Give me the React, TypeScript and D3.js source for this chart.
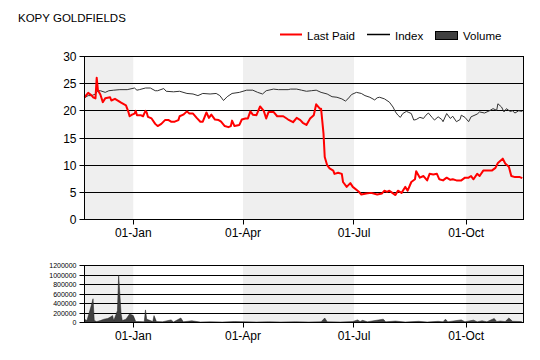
import React from 'react';
import * as d3 from 'd3';

const title = 'KOPY GOLDFIELDS';
const seriesNames = ['Last Paid', 'Index', 'Volume'];

const priceDates = [
  '2012-11-22','2012-11-25','2012-11-28','2012-11-29','2012-12-01','2012-12-02','2012-12-03','2012-12-05','2012-12-07','2012-12-09',
  '2012-12-13','2012-12-14','2012-12-17','2012-12-20','2012-12-22','2012-12-26','2012-12-28','2012-12-29','2012-12-31','2013-01-02',
  '2013-01-03','2013-01-04','2013-01-07','2013-01-09','2013-01-11','2013-01-12','2013-01-13','2013-01-16','2013-01-19','2013-01-21',
  '2013-01-24','2013-01-27','2013-01-30','2013-02-01','2013-02-04','2013-02-07','2013-02-08','2013-02-11','2013-02-14','2013-02-16',
  '2013-02-19','2013-02-22','2013-02-25','2013-02-27','2013-03-02','2013-03-04','2013-03-06','2013-03-09','2013-03-12','2013-03-14',
  '2013-03-17','2013-03-20','2013-03-22','2013-03-23','2013-03-25','2013-03-29','2013-03-31','2013-04-03','2013-04-05','2013-04-07',
  '2013-04-09','2013-04-12','2013-04-15','2013-04-18','2013-04-20','2013-04-22','2013-04-26','2013-04-29','2013-05-04','2013-05-08',
  '2013-05-12','2013-05-15','2013-05-18','2013-05-20','2013-05-23','2013-05-26','2013-05-29','2013-05-31','2013-06-03','2013-06-04',
  '2013-06-06','2013-06-07','2013-06-09','2013-06-11','2013-06-14','2013-06-15','2013-06-18','2013-06-21','2013-06-22','2013-06-25',
  '2013-06-28','2013-06-30','2013-07-05','2013-07-07','2013-07-11','2013-07-15','2013-07-20','2013-07-24','2013-07-26','2013-07-28',
  '2013-07-30','2013-08-02','2013-08-04','2013-08-06','2013-08-09','2013-08-12','2013-08-14','2013-08-17','2013-08-20','2013-08-21',
  '2013-08-24','2013-08-27','2013-08-30','2013-09-01','2013-09-04','2013-09-07','2013-09-09','2013-09-12','2013-09-15','2013-09-18',
  '2013-09-20','2013-09-23','2013-09-27','2013-09-30','2013-10-03','2013-10-05','2013-10-07','2013-10-10','2013-10-12','2013-10-15',
  '2013-10-18','2013-10-22','2013-10-25','2013-10-27','2013-10-31','2013-11-02','2013-11-05','2013-11-07','2013-11-10','2013-11-14',
  '2013-11-16'
];
const priceValues = [
  22.5,23.3,22.8,22.5,22.3,26.1,23.8,23.0,21.6,22.3,
  22.5,21.9,22.2,21.8,21.5,21.0,19.8,19.0,19.3,19.5,
  20.0,19.2,19.2,19.0,20.0,19.7,18.9,18.6,17.6,17.2,
  17.6,18.3,18.3,18.0,18.0,18.3,19.0,19.3,19.9,19.5,
  19.5,18.7,18.0,18.0,19.7,18.7,19.3,18.4,18.3,18.0,
  17.2,17.0,17.2,18.2,17.2,17.4,18.4,18.6,18.6,19.9,
  19.3,19.2,20.8,20.0,18.6,19.8,19.8,19.0,19.0,18.4,
  17.9,18.7,18.3,17.8,17.4,18.6,19.2,21.2,20.4,20.4,
  15.8,11.5,10.0,9.4,9.0,8.4,8.6,8.4,6.9,6.0,
  6.7,6.0,5.1,4.6,4.8,4.9,4.6,4.8,5.3,5.1,
  5.3,4.8,4.5,5.3,4.9,6.0,5.3,6.9,7.4,8.9,
  7.7,8.0,7.2,8.4,8.3,8.4,7.4,7.2,7.7,7.3,
  7.4,7.2,7.2,7.7,7.7,8.0,7.4,8.4,8.0,9.0,
  9.0,9.0,9.5,10.4,11.2,10.3,9.7,8.0,7.8,7.8,
  7.6
];

const indexDates = [
  '2012-11-22','2012-11-25','2012-11-28','2012-12-01','2012-12-03','2012-12-05','2012-12-09','2012-12-12','2012-12-16','2012-12-21',
  '2012-12-27','2013-01-02','2013-01-04','2013-01-06','2013-01-11','2013-01-15','2013-01-19','2013-01-21','2013-01-26','2013-01-28',
  '2013-02-03','2013-02-08','2013-02-14','2013-02-19','2013-02-23','2013-02-27','2013-03-05','2013-03-10','2013-03-13','2013-03-16',
  '2013-03-19','2013-03-23','2013-03-29','2013-04-04','2013-04-09','2013-04-13','2013-04-17','2013-04-20','2013-04-26','2013-04-30',
  '2013-05-08','2013-05-10','2013-05-15','2013-05-19','2013-05-23','2013-05-27','2013-05-31','2013-06-04','2013-06-09','2013-06-13',
  '2013-06-17','2013-06-21','2013-06-24','2013-06-26','2013-06-29','2013-07-03','2013-07-07','2013-07-10','2013-07-14','2013-07-18',
  '2013-07-20','2013-07-22','2013-07-26','2013-07-30','2013-08-02','2013-08-04','2013-08-06','2013-08-08','2013-08-10','2013-08-13',
  '2013-08-15','2013-08-17','2013-08-19','2013-08-21','2013-08-24','2013-08-27','2013-08-29','2013-08-31','2013-09-03','2013-09-05',
  '2013-09-08','2013-09-11','2013-09-12','2013-09-15','2013-09-18','2013-09-20','2013-09-23','2013-09-26','2013-09-27','2013-09-30',
  '2013-10-03','2013-10-05','2013-10-10','2013-10-12','2013-10-16','2013-10-20','2013-10-23','2013-10-26','2013-10-27','2013-10-30',
  '2013-11-01','2013-11-03','2013-11-06','2013-11-08','2013-11-10','2013-11-13','2013-11-16'
];
const indexValues = [
  22.4,22.8,22.8,23.1,23.7,23.7,23.4,23.7,23.8,23.9,
  23.9,24.2,23.8,23.9,24.2,24.2,23.7,23.7,24.1,23.6,
  23.5,23.6,23.2,23.1,22.8,23.2,23.1,23.2,22.8,21.9,
  22.6,23.2,23.4,23.8,23.8,23.4,23.1,23.7,24.0,23.9,
  23.9,24.0,24.0,23.8,23.6,23.7,23.8,23.4,23.1,22.6,
  22.5,22.2,21.8,22.2,23.0,23.4,23.2,22.8,22.5,22.0,
  22.4,22.5,22.2,21.6,20.7,19.8,19.2,18.8,19.5,19.9,
  19.7,19.5,18.3,18.4,18.8,18.6,19.2,19.6,18.8,18.3,
  18.9,18.4,18.0,19.5,18.6,19.0,18.0,18.4,19.2,18.8,
  18.0,18.9,19.4,19.8,19.6,20.0,20.4,20.1,21.3,20.7,
  19.8,20.4,19.9,20.0,19.6,20.0,19.9
];

const volumeDates = [
  '2012-11-22','2012-11-24','2012-11-26','2012-11-28','2012-11-29','2012-11-30','2012-12-02','2012-12-05','2012-12-08','2012-12-11',
  '2012-12-13','2012-12-15','2012-12-16','2012-12-19','2012-12-20','2012-12-22','2012-12-23','2012-12-26','2012-12-29','2013-01-01',
  '2013-01-03','2013-01-06','2013-01-10','2013-01-11','2013-01-12','2013-01-15','2013-01-17','2013-01-18','2013-01-20','2013-01-25',
  '2013-02-01','2013-02-03','2013-02-09','2013-02-11','2013-02-18','2013-02-25','2013-03-05','2013-03-15','2013-03-25','2013-04-03',
  '2013-04-12','2013-04-22','2013-05-02','2013-05-14','2013-05-25','2013-06-04','2013-06-07','2013-06-09','2013-06-20','2013-06-30',
  '2013-07-04','2013-07-06','2013-07-08','2013-07-12','2013-07-25','2013-07-27','2013-08-04','2013-08-12','2013-08-23','2013-08-30',
  '2013-09-08','2013-09-12','2013-09-14','2013-09-16','2013-09-27','2013-09-30','2013-10-07','2013-10-10','2013-10-14','2013-10-18',
  '2013-10-24','2013-10-26','2013-10-29','2013-11-02','2013-11-05','2013-11-08','2013-11-15','2013-11-16'
];
const volumeValues = [
  70000,40000,215000,400000,500000,40000,20000,40000,70000,85000,
  110000,145000,40000,250000,1000000,180000,40000,70000,180000,145000,
  20000,20000,15000,265000,70000,40000,20000,145000,20000,15000,
  55000,10000,95000,15000,35000,10000,15000,10000,20000,15000,
  10000,15000,10000,15000,10000,15000,95000,15000,10000,20000,
  55000,20000,45000,15000,70000,15000,30000,10000,25000,10000,
  25000,15000,70000,15000,55000,15000,50000,15000,35000,15000,
  85000,20000,30000,20000,95000,25000,20000,10000
];

const priceTicks = [0, 5, 10, 15, 20, 25, 30];
const volumeTicks = [0, 200000, 400000, 600000, 800000, 1000000, 1200000];

const FONT = '"Liberation Sans", Arial, sans-serif';
const parse = d3.timeParse('%Y-%m-%d');

export default function App() {
  const startDate = parse('2012-11-22') as Date;
  const endDate = parse('2013-11-17') as Date;
  const left = 84.5;
  const right = 523.5;
  const x = d3.scaleTime().domain([startDate, endDate]).range([left, right]);
  const y = d3.scaleLinear().domain([0, 30]).range([219.5, 56.5]);
  const yv = d3.scaleLinear().domain([0, 1200000]).range([322.5, 265.5]);
  const crisp = (v: number) => Math.floor(v) + 0.5;

  const qTicks = x.ticks(d3.timeMonth.every(3) as any) as Date[];
  const bounds = [startDate, ...qTicks, endDate];
  const bands: [Date, Date][] = [];
  for (let i = 0; i < bounds.length - 1; i += 2) bands.push([bounds[i], bounds[i + 1]]);
  const fmt = d3.timeFormat('%d-%b');

  const price = priceDates.map((d, i) => [parse(d) as Date, priceValues[i]] as [Date, number]);
  const index = indexDates.map((d, i) => [parse(d) as Date, indexValues[i]] as [Date, number]);
  const volume = volumeDates.map((d, i) => [parse(d) as Date, volumeValues[i]] as [Date, number]);

  const line = d3.line<[Date, number]>().x(d => x(d[0])).y(d => y(d[1]));
  const area = d3.area<[Date, number]>().x(d => x(d[0])).y0(yv(0)).y1(d => yv(d[1]));

  const panel = (top: number, bottom: number, ys: (v: number) => number, ticks: number[], fontSize: number, labelFmt: (v: number) => string, key: string) => (
    <g key={key}>
      {bands.map((b, i) => (
        <rect key={i} x={x(b[0])} y={top} width={x(b[1]) - x(b[0])} height={bottom - top} fill="#efefef" />
      ))}
      {ticks.slice(1, -1).map(t => (
        <line key={t} x1={left} x2={right} y1={crisp(ys(t))} y2={crisp(ys(t))} stroke="#000" strokeWidth={1} />
      ))}
      {ticks.map(t => (
        <g key={'t' + t}>
          <line x1={left - 5} x2={left} y1={crisp(ys(t))} y2={crisp(ys(t))} stroke="#000" />
          <text x={left - 8} y={crisp(ys(t))} textAnchor="end" dominantBaseline="central" fontSize={fontSize} fontFamily={FONT} fill="#000">{labelFmt(t)}</text>
        </g>
      ))}
      {qTicks.map(t => (
        <g key={'x' + t.getTime()}>
          <line x1={crisp(x(t))} x2={crisp(x(t))} y1={bottom} y2={bottom + 5} stroke="#000" />
          <text x={x(t)} y={bottom + 17} textAnchor="middle" fontSize={12} fontFamily={FONT} fill="#000">{fmt(t)}</text>
        </g>
      ))}
    </g>
  );

  return (
    <svg width={540} height={360} style={{ position: 'absolute', left: 0, top: 0, background: '#fff' }} xmlns="http://www.w3.org/2000/svg">
      <rect x={0} y={0} width={540} height={360} fill="#fff" />
      <text x={18} y={22} fontSize={11.5} fontFamily={FONT} fill="#000">{title}</text>

      {/* legend */}
      <line x1={280} x2={302} y1={34.5} y2={34.5} stroke="#ff0000" strokeWidth={2} />
      <text x={307} y={39.5} fontSize={11.5} fontFamily={FONT} fill="#000">{seriesNames[0]}</text>
      <line x1={367} x2={390} y1={34.5} y2={34.5} stroke="#000" strokeWidth={1.5} />
      <text x={395} y={39.5} fontSize={11.5} fontFamily={FONT} fill="#000">{seriesNames[1]}</text>
      <rect x={435.5} y={31.5} width={22} height={8} fill="#404040" stroke="#000" />
      <text x={463} y={39.5} fontSize={11.5} fontFamily={FONT} fill="#000">{seriesNames[2]}</text>

      {/* main panel */}
      {panel(56.5, 219.5, y, priceTicks, 12, v => String(v), 'main')}
      <path d={line(index) || ''} fill="none" stroke="#333" strokeWidth={1} />
      <path d={line(price) || ''} fill="none" stroke="#ff0000" strokeWidth={2} strokeLinejoin="round" />
      <rect x={left} y={56.5} width={right - left} height={219.5 - 56.5} fill="none" stroke="#000" strokeWidth={1} />

      {/* volume panel */}
      {panel(265.5, 322.5, yv, volumeTicks, 7, v => String(v), 'vol')}
      <path d={area(volume) || ''} fill="#404040" stroke="#202020" strokeWidth={0.5} />
      <rect x={left} y={265.5} width={right - left} height={322.5 - 265.5} fill="none" stroke="#000" strokeWidth={1} />
    </svg>
  );
}
